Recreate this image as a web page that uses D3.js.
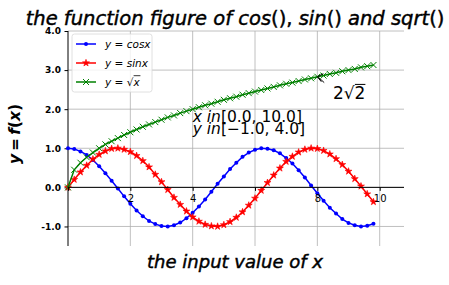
<!DOCTYPE html>
<html>
<head>
<meta charset="utf-8">
<script src="https://d3js.org/d3.v7.min.js"></script>
<style>
  body { margin: 0; background: #fff; }
  svg { font-family: "DejaVu Sans", sans-serif; }
  .grid line { stroke: #b0b0b0; stroke-width: 0.8px; }
  .ylab { font-size: 9px; font-weight: bold; }
  .xlab { font-size: 10px; }
  .heavy { stroke: #000; stroke-width: 0.45px; }
</style>
</head>
<body>
<svg id="chart" width="449" height="285"></svg>
<script>
// sample points and the three series
var xs = [0.0, 0.2, 0.4, 0.6, 0.8, 1.0, 1.2, 1.4, 1.6, 1.8,
          2.0, 2.2, 2.4, 2.6, 2.8, 3.0, 3.2, 3.4, 3.6, 3.8,
          4.0, 4.2, 4.4, 4.6, 4.8, 5.0, 5.2, 5.4, 5.6, 5.8,
          6.0, 6.2, 6.4, 6.6, 6.8, 7.0, 7.2, 7.4, 7.6, 7.8,
          8.0, 8.2, 8.4, 8.6, 8.8, 9.0, 9.2, 9.4, 9.6, 9.8];
var cosVals = [1.00, 0.98, 0.92, 0.83, 0.70, 0.54, 0.36, 0.17, -0.03, -0.23,
               -0.42, -0.59, -0.74, -0.86, -0.94, -0.99, -1.00, -0.97, -0.90, -0.79,
               -0.65, -0.49, -0.31, -0.11, 0.09, 0.28, 0.47, 0.63, 0.78, 0.89,
               0.96, 1.00, 0.99, 0.95, 0.87, 0.75, 0.61, 0.44, 0.25, 0.05,
               -0.15, -0.34, -0.52, -0.67, -0.81, -0.91, -0.97, -1.00, -0.98, -0.93];
var sinVals = [0.00, 0.20, 0.39, 0.56, 0.72, 0.84, 0.93, 0.99, 1.00, 0.97,
               0.91, 0.81, 0.68, 0.52, 0.33, 0.14, -0.06, -0.26, -0.44, -0.61,
               -0.76, -0.87, -0.95, -0.99, -1.00, -0.96, -0.88, -0.77, -0.63, -0.46,
               -0.28, -0.08, 0.12, 0.31, 0.49, 0.66, 0.79, 0.90, 0.97, 1.00,
               0.99, 0.94, 0.85, 0.73, 0.58, 0.41, 0.22, 0.03, -0.17, -0.37];
var sqrtVals = [0.00, 0.45, 0.63, 0.77, 0.89, 1.00, 1.10, 1.18, 1.26, 1.34,
                1.41, 1.48, 1.55, 1.61, 1.67, 1.73, 1.79, 1.84, 1.90, 1.95,
                2.00, 2.05, 2.10, 2.14, 2.19, 2.24, 2.28, 2.32, 2.37, 2.41,
                2.45, 2.49, 2.53, 2.57, 2.61, 2.65, 2.68, 2.72, 2.76, 2.79,
                2.83, 2.86, 2.90, 2.93, 2.97, 3.00, 3.03, 3.07, 3.10, 3.13];

var xTicks = [0, 2, 4, 6, 8, 10];
var xTickLabels = ["", "2", "4", "", "8", "10"];
var yTicks = [-1, 0, 1, 2, 3, 4];
var yTickLabels = ["-1.0", "0.0", "1.0", "2.0", "3.0", "4.0"];
var xDomain = [0, 10.78];   // xlim = x.max() * 1.1
var yDomain = [-1.5, 4.0];

var svg = d3.select("#chart");
var pLeft = 68, pRight = 404, pTop = 31, pBottom = 246;

var x = d3.scaleLinear().domain(xDomain).range([pLeft, pRight]);
var y = d3.scaleLinear().domain(yDomain).range([pBottom, pTop]);

// grid
var grid = svg.append("g").attr("class", "grid");
grid.selectAll(".gx").data(xTicks.slice(1)).enter().append("line")
    .attr("x1", function(d) { return x(d); }).attr("x2", function(d) { return x(d); })
    .attr("y1", pTop).attr("y2", pBottom);
grid.selectAll(".gy").data(yTicks).enter().append("line")
    .attr("x1", pLeft).attr("x2", pRight)
    .attr("y1", function(d) { return y(d); }).attr("y2", function(d) { return y(d); });

// left spine with y ticks
var yAxis = svg.append("g")
    .attr("transform", "translate(" + pLeft + ",0)")
    .call(d3.axisLeft(y).tickValues(yTicks).tickSize(3.5).tickPadding(3.5)
          .tickFormat(function(d, i) { return yTickLabels[i]; }));
yAxis.select(".domain").attr("d", "M0," + pTop + "V" + pBottom).attr("stroke", "#000");
yAxis.selectAll("text").attr("class", "ylab").attr("fill", "#000");
yAxis.attr("font-size", null).attr("font-family", null);

var series = [
  {vals: cosVals, color: "#0000ff", marker: "dot"},
  {vals: sinVals, color: "#ff0000", marker: "star"},
  {vals: sqrtVals, color: "#008000", marker: "cross"}
];

var line = d3.line()
    .x(function(d) { return x(d[0]); })
    .y(function(d) { return y(d[1]); });

function drawMarker(g, type, color, cx, cy) {
  if (type === "dot") {
    g.append("circle").attr("cx", cx).attr("cy", cy).attr("r", 2).attr("fill", color);
  } else if (type === "star") {
    g.append("path").attr("transform", "translate(" + cx + "," + cy + ")")
      .attr("d", d3.symbol(d3.symbolStar, 15)()).attr("fill", color)
      .attr("stroke", color).attr("stroke-width", 0.6);
  } else {
    var s = 3;
    g.append("path")
      .attr("d", "M" + (cx - s) + "," + (cy - s) + "L" + (cx + s) + "," + (cy + s) +
                 "M" + (cx - s) + "," + (cy + s) + "L" + (cx + s) + "," + (cy - s))
      .attr("stroke", color).attr("stroke-width", 1).attr("fill", "none");
  }
}

series.forEach(function(s) {
  var pts = xs.map(function(v, i) { return [v, s.vals[i]]; });
  var g = svg.append("g");
  g.append("path").datum(pts).attr("d", line)
    .attr("fill", "none").attr("stroke", s.color).attr("stroke-width", 1.5);
  pts.forEach(function(p) { drawMarker(g, s.marker, s.color, x(p[0]), y(p[1])); });
});

// bottom spine moved to y = 0 (drawn after the lines)
var xAxis = svg.append("g")
    .attr("transform", "translate(0," + y(0) + ")")
    .call(d3.axisBottom(x).tickValues(xTicks).tickSize(3.5).tickPadding(4)
          .tickFormat(function(d, i) { return xTickLabels[i]; }));
xAxis.select(".domain").attr("d", "M" + pLeft + ",0H" + pRight).attr("stroke", "#000");
xAxis.selectAll("text").attr("class", "xlab").attr("fill", "#000");
xAxis.attr("font-size", null).attr("font-family", null);

// legend
var leg = svg.append("g").attr("transform", "translate(72,34)");
leg.append("rect").attr("width", 80).attr("height", 58).attr("rx", 2.5)
  .attr("fill", "#fff").attr("fill-opacity", 0.8).attr("stroke", "#d8d8d8").attr("stroke-width", 0.8);
var legTexts = [
  [["y", 1], [" = ", 0], ["cosx", 1]],
  [["y", 1], [" = ", 0], ["sinx", 1]],
  [["y", 1], [" = ", 0], ["\u221A", 0], ["x", 1]]
];
series.forEach(function(s, i) {
  var ly = 10 + i * 19;
  leg.append("line").attr("x1", 4).attr("x2", 24).attr("y1", ly).attr("y2", ly)
    .attr("stroke", s.color).attr("stroke-width", 1.5);
  drawMarker(leg, s.marker, s.color, 14, ly);
  var t = leg.append("text").attr("x", 33).attr("y", ly + 4).attr("font-size", 10.5);
  legTexts[i].forEach(function(p) {
    t.append("tspan").text(p[0]).attr("font-style", p[1] ? "italic" : "normal");
  });
  if (i === 2) {
    var bb = t.node().getBBox();
    leg.append("line").attr("x1", bb.x + bb.width - 6.8).attr("x2", bb.x + bb.width)
      .attr("y1", ly - 6.3).attr("y2", ly - 6.3).attr("stroke", "#000").attr("stroke-width", 0.8);
  }
});

// annotation 2*sqrt(2)
var ax = x(8), ay = y(2.83);
var tx = x(8.22), ty = y(2.68);
svg.append("line").attr("x1", tx).attr("y1", ty).attr("x2", ax + 1).attr("y2", ay + 0.5)
  .attr("stroke", "#000").attr("stroke-width", 1);
svg.append("path").attr("d", "M" + (ax + 6) + "," + (ay - 3) + "L" + ax + "," + ay + "L" + (ax + 4) + "," + (ay + 5))
  .attr("stroke", "#000").attr("fill", "none").attr("stroke-width", 1);
var ann = svg.append("text").attr("x", x(8.5)).attr("y", y(2.25)).attr("font-size", 17)
  .text("2\u221A2");
var abb = ann.node().getBBox();
svg.append("line").attr("x1", abb.x + abb.width - 10.5).attr("x2", abb.x + abb.width)
  .attr("y1", y(2.25) - 15).attr("y2", y(2.25) - 15).attr("stroke", "#000").attr("stroke-width", 1);

// range text
function mathText(xp, yp, parts) {
  var t = svg.append("text").attr("x", xp).attr("y", yp).attr("font-size", 15.5);
  parts.forEach(function(p) {
    t.append("tspan").text(p[0]).attr("font-style", p[1] ? "italic" : "normal");
  });
}
mathText(x(4), 122, [["x in", 1], ["[0.0, 10.0]", 0]]);
mathText(x(4), 134, [["y in", 1], ["[\u22121.0, 4.0]", 0]]);

// title and axis labels
var title = svg.append("text").attr("class", "heavy").attr("x", 235).attr("y", 25)
  .attr("text-anchor", "middle").attr("font-size", 19.5);
[["the function figure of cos", 1], ["(), ", 0], ["sin", 1], ["() ", 0], ["and sqrt", 1], ["()", 0]]
  .forEach(function(p) { title.append("tspan").text(p[0]).attr("font-style", p[1] ? "italic" : "normal"); });

svg.append("text").attr("class", "heavy").attr("x", 235).attr("y", 268)
  .attr("text-anchor", "middle").attr("font-size", 18).attr("font-style", "italic")
  .text("the input value of x");

var yl = svg.append("text").attr("transform", "translate(20,134) rotate(-90)")
  .attr("text-anchor", "middle").attr("font-size", 15.5).attr("font-weight", "bold");
[["y", 1], ["\u2009=\u2009", 0], ["f", 1], ["(", 0], ["x", 1], [")", 0]]
  .forEach(function(p) { yl.append("tspan").text(p[0]).attr("font-style", p[1] ? "italic" : "normal"); });
</script>
</body>
</html>
